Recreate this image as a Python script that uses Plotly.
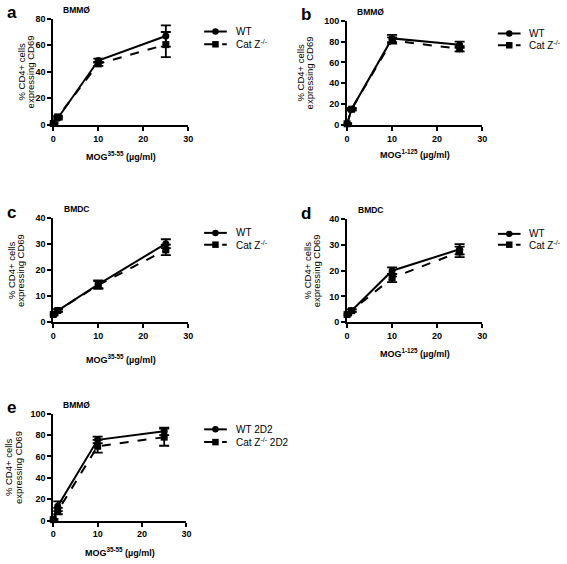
import plotly.graph_objects as go

W, H = 567, 564

doses = [0, 1, 10, 25]

a_wt = [1, 5, 48.5, 67]
a_wt_err = [0.5, 1, 1.5, 8]
a_cat = [1, 6, 46, 60.5]
a_cat_err = [0.5, 1, 1.5, 9.5]

b_wt = [1, 15, 83, 77]
b_wt_err = [0.5, 1, 3.5, 3]
b_cat = [1, 15, 81, 73]
b_cat_err = [0.5, 1, 3, 2.5]

c_wt = [3, 4.5, 14.6, 30.2]
c_wt_err = [0.3, 0.5, 1.5, 1.7]
c_cat = [3, 4.5, 14.3, 27.8]
c_cat_err = [0.3, 0.5, 1.5, 2]

d_wt = [3, 4.5, 20, 28.3]
d_wt_err = [0.3, 0.5, 1.3, 2]
d_cat = [3, 4.5, 17.2, 27.3]
d_cat_err = [0.3, 0.5, 1.6, 2]

e_wt = [1, 13.5, 75.5, 83.5]
e_wt_err = [0.5, 4.5, 3, 3.5]
e_cat = [1, 9, 69.5, 78]
e_cat_err = [0.5, 3, 6, 8]

FONT = "Liberation Sans, Arial, sans-serif"

# panel geometry in pixels: (x_left, x_right, y_top, y_bottom)
panels = [
    dict(letter="a", title="BMMØ", wt=a_wt, wte=a_wt_err, cat=a_cat, cate=a_cat_err,
         ymax=80, dy=20, px=(51, 188, 14, 122), xlab="MOG<sup>35-55</sup> (µg/ml)", xlab_y=154,
         wt_name="WT", cat_name="Cat Z<sup>-/-</sup>", leg=(204, 27, 40), ytx=(19, 28)),
    dict(letter="b", title="BMMØ", wt=b_wt, wte=b_wt_err, cat=b_cat, cate=b_cat_err,
         ymax=100, dy=20, px=(349, 486, 16, 122), xlab="MOG<sup>1-125</sup> (µg/ml)", xlab_y=152,
         wt_name="WT", cat_name="Cat Z<sup>-/-</sup>", leg=(502, 29, 41), ytx=(302, 311)),
    dict(letter="c", title="BMDC", wt=c_wt, wte=c_wt_err, cat=c_cat, cate=c_cat_err,
         ymax=40, dy=10, px=(51, 188, 217, 323), xlab="MOG<sup>35-55</sup> (µg/ml)", xlab_y=360,
         wt_name="WT", cat_name="Cat Z<sup>-/-</sup>", leg=(204, 232, 244), ytx=(8, 17)),
    dict(letter="d", title="BMDC", wt=d_wt, wte=d_wt_err, cat=d_cat, cate=d_cat_err,
         ymax=40, dy=10, px=(349, 486, 218, 323), xlab="MOG<sup>1-125</sup> (µg/ml)", xlab_y=354,
         wt_name="WT", cat_name="Cat Z<sup>-/-</sup>", leg=(502, 233, 244), ytx=(309, 318)),
    dict(letter="e", title="BMMØ", wt=e_wt, wte=e_wt_err, cat=e_cat, cate=e_cat_err,
         ymax=100, dy=20, px=(51, 186, 416, 525), xlab="MOG<sup>35-55</sup> (µg/ml)", xlab_y=557,
         wt_name="WT 2D2", cat_name="Cat Z<sup>-/-</sup> 2D2", leg=(204, 432, 445), ytx=(5, 15)),
]

fig = go.Figure()
layout = dict(
    width=W, height=H, margin=dict(l=0, r=0, t=0, b=0),
    paper_bgcolor="white", plot_bgcolor="white",
    font=dict(family=FONT, color="black"),
    annotations=[], shapes=[], showlegend=False,
)


def px_x(v):
    return v / W


def px_y(v):
    return 1 - v / H


for i, p in enumerate(panels):
    n = i + 1
    sfx = "" if n == 1 else str(n)
    xa, ya = "x" + sfx, "y" + sfx
    x0, x1, yt, yb = p["px"]
    for name, ys, es, sym, dash in [
        (p["wt_name"], p["wt"], p["wte"], "circle", "solid"),
        (p["cat_name"], p["cat"], p["cate"], "square", "dash"),
    ]:
        fig.add_trace(go.Scatter(
            x=doses, y=ys, name=name, mode="lines+markers",
            xaxis=xa, yaxis=ya, cliponaxis=False,
            line=dict(color="black", width=2, dash=dash),
            marker=dict(symbol=sym, size=7, color="black"),
            error_y=dict(type="data", array=es, visible=True, color="black",
                         thickness=1.8, width=5),
        ))
    layout["xaxis" + sfx] = dict(
        domain=[x0 / W, x1 / W], anchor=ya, range=[0, 30], dtick=10,
        showline=True, linecolor="black", linewidth=2, ticks="outside",
        ticklen=4, tickwidth=2, tickcolor="black", showgrid=False, zeroline=False,
        tickfont=dict(family=FONT, size=9, weight="bold"), fixedrange=True,
    )
    layout["yaxis" + sfx] = dict(
        domain=[1 - yb / H, 1 - yt / H], anchor=xa, range=[0, p["ymax"]], dtick=p["dy"],
        showline=True, linecolor="black", linewidth=2, ticks="outside",
        ticklen=4, tickwidth=2, tickcolor="black", showgrid=False, zeroline=False,
        tickfont=dict(family=FONT, size=9, weight="bold"), fixedrange=True,
    )

    # manual legend (key samples + labels)
    lx, ly_wt, ly_cat = p["leg"]
    shapes = layout["shapes"]
    anns = layout["annotations"]
    for name, ly, sym, dash in [(p["wt_name"], ly_wt, "circle", "solid"),
                                (p["cat_name"], ly_cat, "rect", "dash")]:
        shapes.append(dict(type="line", xref="paper", yref="paper",
                           x0=px_x(lx), x1=px_x(lx + 23), y0=px_y(ly), y1=px_y(ly),
                           line=dict(color="black", width=2, dash=dash)))
        cx = lx + 11.5
        shapes.append(dict(type=sym, xref="paper", yref="paper",
                           x0=px_x(cx - 3.3), x1=px_x(cx + 3.3), y0=px_y(ly + 3.3), y1=px_y(ly - 3.3),
                           fillcolor="black", line=dict(color="black", width=0)))
        anns.append(dict(text=name, x=px_x(lx + 30), y=px_y(ly), xref="paper", yref="paper",
                         showarrow=False, xanchor="left", yanchor="middle",
                         font=dict(family=FONT, size=10)))

    # panel letter
    anns.append(dict(text="<b>" + p["letter"] + "</b>", x=px_x(x0 - 49),
                     y=px_y(yt - 6), xref="paper", yref="paper", showarrow=False,
                     xanchor="left", yanchor="middle", font=dict(family=FONT, size=17)))
    # panel title
    anns.append(dict(text="<b>" + p["title"] + "</b>", x=px_x(x0 + 24), y=px_y(yt - 9),
                     xref="paper", yref="paper", showarrow=False, xanchor="center",
                     yanchor="middle", font=dict(family=FONT, size=8.5)))
    # y title (two lines)
    yc = px_y((yt + yb) / 2)
    c1, c2 = p["ytx"]
    anns.append(dict(text="% CD4+ cells", x=px_x(c1), y=yc, xref="paper", yref="paper",
                     showarrow=False, textangle=-90, xanchor="center", yanchor="middle",
                     font=dict(family=FONT, size=9.5)))
    anns.append(dict(text="expressing CD69", x=px_x(c2), y=yc, xref="paper", yref="paper",
                     showarrow=False, textangle=-90, xanchor="center", yanchor="middle",
                     font=dict(family=FONT, size=9.5)))
    # x title
    anns.append(dict(text="<b>" + p["xlab"] + "</b>", x=px_x((x0 + x1) / 2), y=px_y(p["xlab_y"]),
                     xref="paper", yref="paper", showarrow=False, xanchor="center",
                     yanchor="middle", font=dict(family=FONT, size=9)))

fig.update_layout(**layout)
fig.write_html("out.html", config={"displayModeBar": False},
               post_script="document.body.style.margin='0';document.body.style.overflow='hidden';")
